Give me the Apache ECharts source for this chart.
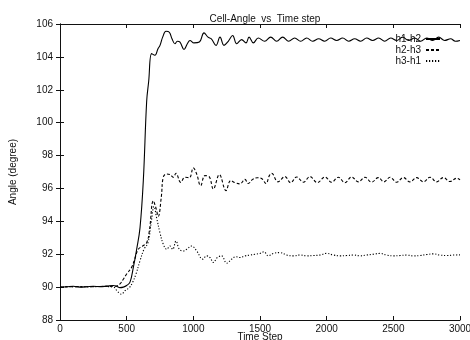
<!DOCTYPE html>
<html>
<head>
<meta charset="utf-8">
<script src="https://cdn.jsdelivr.net/npm/echarts@6/dist/echarts.min.js"></script>
<style>html,body{margin:0;padding:0;background:#fff}#c{width:470px;height:340px}</style>
</head>
<body>
<div id="c"></div>
<script>
const titleText = 'Cell-Angle  vs  Time step';
const xName = 'Time Step';
const yName = 'Angle (degree)';
const seriesNames = ['h1-h2', 'h2-h3', 'h3-h1'];
const xTicks = [0, 500, 1000, 1500, 2000, 2500, 3000];
const yTicks = [88, 90, 92, 94, 96, 98, 100, 102, 104, 106];

const h1h2 = [
  [0,90.0],[50,90.02],[100,90.05],[150,90.0],[200,90.02],[250,90.05],[300,90.03],[350,90.06],[400,90.1],
  [425,90.05],[450,89.97],[475,90.0],[500,90.1],[525,90.3],[550,91.2],[575,92.3],[600,93.6],[625,96.5],
  [650,101.3],[665,102.5],[687,104.2],[712,104.1],[735,104.5],[750,104.7],[770,105.2],[795,105.56],
  [820,105.5],[840,105.1],[862,104.8],[880,104.95],[900,104.9],[930,104.45],[955,104.8],[975,105.0],
  [1005,104.85],[1045,104.9],[1080,105.46],[1110,105.2],[1135,105.1],[1170,104.7],[1200,105.2],
  [1230,104.7],[1262,104.95],[1295,105.3],[1325,104.8],[1362,105.05],[1395,104.85],[1418,105.2],
  [1450,104.85],[1487,105.15],[1535,104.95],[1580,105.2],[1625,104.95],[1670,105.2],[1715,104.95],
  [1760,105.15],[1805,104.95],[1850,105.15],[1895,104.95],[1940,105.1],[1985,104.95],[2030,105.15],
  [2075,105.0],[2120,105.15],[2165,104.95],[2210,105.1],[2255,104.95],[2300,105.15],[2345,105.0],
  [2390,105.15],[2435,104.95],[2480,105.15],[2525,105.0],[2570,105.2],[2615,105.0],[2660,105.15],
  [2705,104.95],[2750,105.15],[2795,105.0],[2840,105.2],[2885,105.0],[2930,105.1],[2965,104.95],[3000,105.0]
];
const h2h3 = [
  [0,90.0],[100,90.03],[200,90.02],[300,90.04],[400,90.05],[425,90.07],[450,90.2],[475,90.48],[500,90.8],
  [537,91.2],[560,91.7],[587,92.3],[620,92.5],[650,92.7],[670,93.4],[700,95.25],[720,94.8],[737,94.3],
  [760,95.5],[775,96.7],[800,96.88],[825,96.85],[850,96.68],[870,96.92],[905,96.37],[937,96.68],
  [970,96.65],[1000,97.25],[1025,96.88],[1055,96.17],[1087,96.78],[1120,96.7],[1150,95.97],[1195,96.84],
  [1245,95.87],[1280,96.48],[1312,96.35],[1350,96.28],[1387,96.55],[1412,96.3],[1445,96.55],[1480,96.65],
  [1512,96.6],[1545,96.3],[1570,96.78],[1587,96.92],[1635,96.4],[1687,96.72],[1730,96.35],[1775,96.7],
  [1825,96.38],[1875,96.72],[1930,96.35],[1987,96.7],[2037,96.38],[2087,96.68],[2137,96.35],[2187,96.7],
  [2237,96.4],[2287,96.68],[2337,96.38],[2387,96.66],[2430,96.4],[2475,96.68],[2525,96.38],[2575,96.66],
  [2625,96.4],[2675,96.66],[2725,96.4],[2775,96.68],[2825,96.4],[2875,96.66],[2925,96.42],[2975,96.62],[3000,96.52]
];
const h3h1 = [
  [0,90.0],[100,90.03],[200,90.02],[300,90.04],[400,90.0],[430,89.75],[460,89.57],[490,89.8],[520,89.97],
  [545,90.3],[570,90.8],[600,91.6],[630,92.3],[660,92.7],[685,94.0],[705,94.9],[725,94.2],[750,93.3],
  [775,92.6],[800,92.3],[825,92.5],[845,92.3],[870,92.8],[895,92.3],[925,92.2],[950,92.3],[987,92.5],
  [1025,92.2],[1070,91.7],[1100,91.9],[1125,91.8],[1150,91.5],[1180,91.8],[1212,91.9],[1250,91.45],
  [1287,91.7],[1320,91.85],[1350,91.8],[1387,91.9],[1425,91.95],[1462,92.0],[1500,92.05],[1530,92.15],
  [1562,91.9],[1600,92.05],[1650,92.1],[1700,91.95],[1750,91.9],[1800,91.95],[1850,91.9],[1900,91.92],
  [1950,91.95],[2000,92.05],[2050,91.95],[2100,91.9],[2150,91.92],[2200,91.95],[2250,91.9],[2300,91.95],
  [2350,92.0],[2400,92.05],[2450,91.95],[2500,91.9],[2550,91.92],[2600,91.95],[2650,91.9],[2700,91.92],
  [2750,91.98],[2800,92.02],[2850,91.95],[2900,91.92],[2950,91.95],[3000,91.96]
];

const font = 'Liberation Sans, Arial, sans-serif';
const txt = '#111';
const chart = echarts.init(document.getElementById('c'), null, {renderer: 'canvas'});
const axisBase = {
  axisLine: {show: true, lineStyle: {color: '#111', width: 1}},
  axisTick: {show: true, inside: true, length: 4, lineStyle: {color: '#111'}},
  splitLine: {show: false}
};
const xMin = xTicks[0], xMax = xTicks[xTicks.length - 1];
const yMin = yTicks[0], yMax = yTicks[yTicks.length - 1];
chart.setOption({
  animation: false,
  backgroundColor: '#fff',
  title: {
    text: titleText, left: 260, top: 9, textAlign: 'center',
    textStyle: {fontFamily: font, fontSize: 10, fontWeight: 'normal', color: txt}
  },
  graphic: [{
    type: 'text', x: 260, y: 332,
    style: {text: xName, fontFamily: font, fontSize: 10, fill: txt, align: 'center', verticalAlign: 'top'}
  }],
  legend: {
    data: seriesNames, orient: 'vertical', right: 24, top: 29, align: 'right',
    itemWidth: 14, itemHeight: 8, itemGap: 1,
    itemStyle: {opacity: 0},
    textStyle: {fontFamily: font, fontSize: 10, color: txt, padding: [0, 0, 0, 0]}
  },
  grid: {left: 60, right: 10, top: 24, bottom: 20, containLabel: false, outerBoundsMode: 'none'},
  xAxis: [
    Object.assign({}, axisBase, {
      type: 'value', min: xMin, max: xMax, interval: 500, position: 'bottom',
      axisLabel: {fontFamily: font, fontSize: 10, color: txt, margin: 4, formatter: v => String(v)}
    }),
    Object.assign({}, axisBase, {
      type: 'value', min: xMin, max: xMax, interval: 500, position: 'top',
      axisLabel: {show: false}
    })
  ],
  yAxis: [
    Object.assign({}, axisBase, {
      type: 'value', min: yMin, max: yMax, interval: 2, position: 'left',
      name: yName, nameLocation: 'middle', nameGap: 42, nameRotate: 90,
      nameTextStyle: {fontFamily: font, fontSize: 10, color: txt},
      axisLabel: {fontFamily: font, fontSize: 10, color: txt, margin: 7}
    }),
    Object.assign({}, axisBase, {
      type: 'value', min: yMin, max: yMax, interval: 2, position: 'right',
      axisLabel: {show: false}
    })
  ],
  series: [
    {name: seriesNames[0], type: 'line', data: h1h2, showSymbol: false, symbol: 'none', smooth: 0.4,
     lineStyle: {color: '#000', width: 1.1, type: 'solid'}, itemStyle: {color: '#000'}},
    {name: seriesNames[1], type: 'line', data: h2h3, showSymbol: false, symbol: 'none', smooth: 0.4,
     lineStyle: {color: '#000', width: 1.1, type: [3, 2]}, itemStyle: {color: '#000'}},
    {name: seriesNames[2], type: 'line', data: h3h1, showSymbol: false, symbol: 'none', smooth: 0.4,
     lineStyle: {color: '#000', width: 1.1, type: [1.2, 1.8]}, itemStyle: {color: '#000'}}
  ]
});
</script>
</body>
</html>
